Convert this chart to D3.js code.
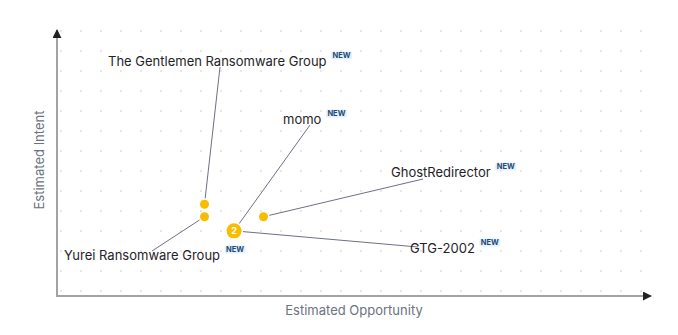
<!DOCTYPE html>
<html>
<head>
  <meta charset="UTF-8">
  <style>
    body {
        margin: 0;
        background: #fff;
        font-family: Inter, "Noto Sans", sans-serif;
    }
    .label {
        font-size: 13px;
        fill: #1f2328;
    }
    .badge {
        font-size: 7.5px;
        font-weight: 700;
        fill: #1d4a78;
    }
    .axis-title {
        font-size: 13px;
        fill: #6b7280;
    }
  </style>
</head>
<body>
<svg id="chart" width="678" height="335"></svg>

<script src="https://d3js.org/d3.v7.min.js"></script>
<script>

// threat actors (scale 0-10 on both axes)
const names = ["The Gentlemen Ransomware Group", "Yurei Ransomware Group", "momo", "GTG-2002", "GhostRedirector"];
const opportunity = [2.5, 2.5, 3.0, 3.0, 3.5];
const intent = [3.45, 2.98, 2.45, 2.45, 2.98];
const isNew = [true, true, true, true, true];

// label placement (layout only): text start, baseline, leader end
const labelLayout = [
  {x: 108, y: 66, lx: 220, ly: 67},
  {x: 64, y: 260, lx: 152, ly: 251},
  {x: 283, y: 124, lx: 310, ly: 125},
  {x: 410, y: 253, lx: 418, ly: 247},
  {x: 391, y: 177, lx: 423, ly: 179}
];

const mLeft = 57, mBottom = 296, mTop = 30, mRight = 651;

const svg = d3.select("#chart");

const x = d3.scaleLinear().domain([0, 10]).range([mLeft, 647]);
const y = d3.scaleLinear().domain([0, 10]).range([mBottom, 30]);

// dotted background grid
const gx = d3.range(61, 645, 20), gy = d3.range(31, 295, 20);
svg.append("g")
  .selectAll("rect")
  .data(d3.cross(gx, gy))
  .join("rect")
    .attr("x", d => d[0] - 0.75)
    .attr("y", d => d[1] - 0.75)
    .attr("width", 1.5)
    .attr("height", 1.5)
    .attr("fill", "#d4d4d4");

// axes with arrow heads
svg.append("defs").append("marker")
    .attr("id", "arrow")
    .attr("viewBox", "0 0 10 10")
    .attr("refX", 9).attr("refY", 5)
    .attr("markerWidth", 4.5).attr("markerHeight", 4.5)
    .attr("orient", "auto")
  .append("path")
    .attr("d", "M0,0L10,5L0,10Z")
    .attr("fill", "#222");

svg.append("path")
    .attr("d", `M${mLeft},${mBottom}L${mLeft},${mTop}`)
    .attr("stroke", "#a3a3a3").attr("stroke-width", 2).attr("fill", "none")
    .attr("marker-end", "url(#arrow)");
svg.append("path")
    .attr("d", `M${mLeft - 1},${mBottom}L${mRight},${mBottom}`)
    .attr("stroke", "#a3a3a3").attr("stroke-width", 2).attr("fill", "none")
    .attr("marker-end", "url(#arrow)");

svg.append("text")
    .attr("class", "axis-title")
    .attr("x", 354).attr("y", 315)
    .attr("text-anchor", "middle")
    .text("Estimated Opportunity");
svg.append("text")
    .attr("class", "axis-title")
    .attr("transform", "translate(44,160) rotate(-90)")
    .attr("text-anchor", "middle")
    .text("Estimated Intent");

const actors = names.map((n, i) => ({
  name: n, ox: opportunity[i], iy: intent[i], isNew: isNew[i], lay: labelLayout[i]
}));

// group points that sit on the same spot
const clusters = d3.groups(actors, d => d.ox + "|" + d.iy).map(([k, v]) => ({
  ox: v[0].ox, iy: v[0].iy, n: v.length
}));
const radius = c => c.n > 1 ? 7.5 : 4.5;

function edge(d) {
  const cx = x(d.ox), cy = y(d.iy), a = Math.atan2(d.lay.ly - cy, d.lay.lx - cx);
  const c = clusters.find(c => c.ox === d.ox && c.iy === d.iy);
  const r = radius(c) + 1.5;
  return [cx + Math.cos(a) * r, cy + Math.sin(a) * r];
}

// leader lines from point edge to label
svg.append("g")
  .selectAll("line")
  .data(actors)
  .join("line")
    .attr("x1", d => edge(d)[0])
    .attr("y1", d => edge(d)[1])
    .attr("x2", d => d.lay.lx)
    .attr("y2", d => d.lay.ly)
    .attr("stroke", "#6b7088")
    .attr("stroke-width", 1);

// points
const pts = svg.append("g")
  .selectAll("g")
  .data(clusters)
  .join("g")
    .attr("transform", d => `translate(${x(d.ox)},${y(d.iy)})`);
pts.append("circle")
    .attr("r", radius)
    .attr("fill", "#f8bd00");
pts.filter(d => d.n > 1).append("text")
    .attr("text-anchor", "middle")
    .attr("dy", "0.35em")
    .attr("font-size", 9)
    .attr("font-weight", 700)
    .attr("fill", "#fff")
    .text(d => d.n);

// labels with NEW badges
const lab = svg.append("g")
  .selectAll("g")
  .data(actors)
  .join("g");
lab.append("text")
    .attr("class", "label")
    .attr("x", d => d.lay.x)
    .attr("y", d => d.lay.y)
    .text(d => d.name);

lab.each(function(d) {
  if (!d.isNew) return;
  const g = d3.select(this);
  const w = g.select("text.label").node().getComputedTextLength();
  const bx = d.lay.x + w + 6, by = d.lay.y - 8;
  const bg = g.append("rect");
  const t = g.append("text")
      .attr("class", "badge")
      .attr("x", bx).attr("y", by)
      .text("NEW");
  const bw = t.node().getComputedTextLength();
  bg.attr("x", bx - 1.5).attr("y", by - 6.5)
    .attr("width", bw + 3).attr("height", 8)
    .attr("rx", 1.5)
    .attr("fill", "#e4f1fb");
});

</script>
</body>
</html>
